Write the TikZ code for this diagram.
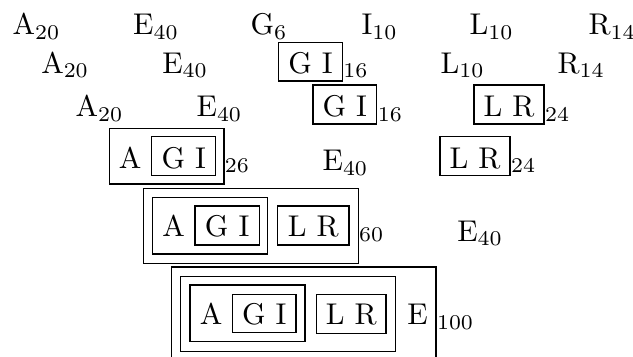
\documentclass[tikz,border=0pt]{standalone}
\begin{document}
\begin{tikzpicture}[x=0.33333pt,y=-0.33333pt,
  txt/.style={inner sep=0pt, anchor=base west, font=\fontsize{10}{12}\selectfont},
  ctxt/.style={inner sep=0pt, anchor=base, font=\fontsize{10}{12}\selectfont},
  sub/.style={inner sep=0pt, anchor=base west, font=\fontsize{7}{8}\selectfont},
  frame/.style={draw=black, line width=0.4pt}]
\useasboundingbox (0,0) rectangle (633,357);
% Row 1
\node[txt] (r1a) at (12,35) {A$_{20}$};
\node[txt] (r1e) at (132.6,35) {E$_{40}$};
\node[txt] (r1g) at (250,35) {G$_{6}$};
\node[txt] (r1i) at (361,35) {I$_{10}$};
\node[txt] (r1l) at (469,35) {L$_{10}$};
\node[txt] (r1r) at (588,35) {R$_{14}$};
% Row 2
\node[txt] (r2a) at (40.7,73.3) {A$_{20}$};
\node[txt] (r2e) at (161.7,73.3) {E$_{40}$};
\draw[frame] (278.7,42.3) rectangle (342.3,81);
\node[ctxt] (r2gi) at (310.5,73.3) {G I};
\node[sub] (r2s) at (342.8,78) {16};
\node[txt] (r2l) at (440,73.3) {L$_{10}$};
\node[txt] (r2r) at (557,73.3) {R$_{14}$};
% Row 3
\node[txt] (r3a) at (75,116.7) {A$_{20}$};
\node[txt] (r3e) at (196,116.7) {E$_{40}$};
\draw[frame] (313,85) rectangle (376.7,124);
\node[ctxt] (r3gi) at (344.85,116.7) {G I};
\node[sub] (r3s1) at (377.2,121.5) {16};
\draw[frame] (474,85) rectangle (544,124);
\node[ctxt] (r3lr) at (509,116.7) {L R};
\node[sub] (r3s2) at (544.5,121.5) {24};
% Row 4
\draw[frame] (109.3,128.3) rectangle (224,184);
\node[txt] (r4a) at (118.3,168.2) {A};
\draw[frame] (151.7,136.7) rectangle (215.7,175.3);
\node[ctxt] (r4gi) at (183.7,168.2) {G I};
\node[sub] (r4s1) at (224.3,173) {26};
\node[txt] (r4e) at (322,171) {E$_{40}$};
\draw[frame] (440,136.7) rectangle (510,175.5);
\node[ctxt] (r4lr) at (475,168.2) {L R};
\node[sub] (r4s2) at (510.5,172.5) {24};
% Row 5
\draw[frame] (143.3,188.3) rectangle (358.3,263.3);
\draw[frame] (152.3,197.3) rectangle (267.7,254);
\node[txt] (r5a) at (161.7,237) {A};
\draw[frame] (195,206) rectangle (259.3,245);
\node[ctxt] (r5gi) at (227.15,237) {G I};
\draw[frame] (277.7,206) rectangle (349,245);
\node[ctxt] (r5lr) at (313.35,237) {L R};
\node[sub] (r5s) at (358.6,241.5) {60};
\node[txt] (r5e) at (456.7,241.5) {E$_{40}$};
% Row 6
\draw[frame] (171.7,267) rectangle (436,361);
\draw[frame] (180.7,276.3) rectangle (395.7,351.7);
\draw[frame] (190,285) rectangle (305,341.7);
\node[txt] (r6a) at (199.3,325) {A};
\draw[frame] (232.7,294.3) rectangle (296,332.7);
\node[ctxt] (r6gi) at (264.35,325) {G I};
\draw[frame] (316.7,294.3) rectangle (386,333.3);
\node[ctxt] (r6lr) at (351.35,325) {L R};
\node[txt] (r6e) at (406.7,325) {E};
\node[sub] (r6s) at (436.5,330) {100};
\end{tikzpicture}
\end{document}
